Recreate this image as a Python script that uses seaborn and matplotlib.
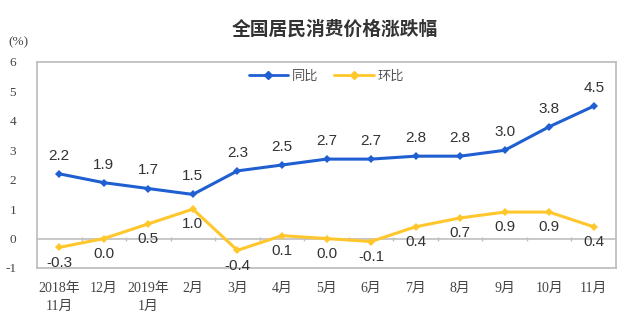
import matplotlib
matplotlib.use("Agg")
import matplotlib.pyplot as plt
import seaborn as sns
import pandas as pd
import numpy as np
from matplotlib.lines import Line2D

months = ["2018年\n11月", "12月", "2019年\n1月", "2月", "3月", "4月", "5月",
          "6月", "7月", "8月", "9月", "10月", "11月"]
yoy = [2.2, 1.9, 1.7, 1.5, 2.3, 2.5, 2.7, 2.7, 2.8, 2.8, 3.0, 3.8, 4.5]
mom = [-0.3, 0.0, 0.5, 1.0, -0.4, 0.1, 0.0, -0.1, 0.4, 0.7, 0.9, 0.9, 0.4]

sns.set_style("white")
plt.rcParams["font.family"] = ["Noto Sans CJK SC", "DejaVu Sans"]

blue = "#1F5FD2"
yellow = "#FFC72C"

df = pd.DataFrame({
    "pos": list(range(len(months))) * 2,
    "value": yoy + mom,
    "series": ["同比"] * len(months) + ["环比"] * len(months),
})

fig = plt.figure(figsize=(6.4, 3.22), dpi=100)
ax = fig.add_axes([37 / 640, 1 - 268 / 322, (616 - 37) / 640, (268 - 62) / 322])

sns.lineplot(data=df, x="pos", y="value", hue="series",
             palette={"同比": blue, "环比": yellow},
             marker="D", markersize=4.5, markeredgewidth=0, linewidth=2.2,
             ax=ax, legend=False)

serif = ["Liberation Serif", "Noto Sans CJK SC"]
ax.set_xlim(-0.5, len(months) - 0.5)
ax.set_ylim(-1, 6)
ax.set_yticks(range(-1, 7))
ax.set_xticks(range(len(months)))
ax.set_xticklabels(months, fontsize=10, color="#444444", family=serif, linespacing=1.5)
ax.set_yticklabels([str(v) for v in range(-1, 7)], fontsize=9.5, color="#444444",
                   family=serif)
ax.tick_params(axis="x", length=0, pad=10)
ax.tick_params(axis="y", length=0, pad=15)
ax.set_xlabel("")
ax.set_ylabel("")

for s in ax.spines.values():
    s.set_color("#BFBFBF")
    s.set_linewidth(1.3)

# category axis along zero with small boundary ticks
ax.axhline(0, color="#BFBFBF", linewidth=1.2, zorder=1)
bounds = np.arange(0.5, len(months) - 1, 1.0)
ax.vlines(bounds, -0.07, 0.07, color="#BFBFBF", linewidth=1.0, zorder=1)

label_font = dict(fontsize=11, color="#333333", family=["Liberation Sans", "DejaVu Sans"])
for i, v in enumerate(yoy):
    ax.annotate(f"{v:.1f}", (i, v), xytext=(0, 8), textcoords="offset points",
                ha="center", va="bottom", **label_font)
for i, v in enumerate(mom):
    ax.annotate(f"{v:.1f}", (i, v), xytext=(0, -6), textcoords="offset points",
                ha="center", va="top", **label_font)

# legend
handles = [Line2D([], [], color=blue, marker="D", markersize=4, linewidth=2),
           Line2D([], [], color=yellow, marker="D", markersize=4, linewidth=2)]
ax.legend(handles, ["同比", "环比"], loc="upper center", ncol=2, frameon=False,
          bbox_to_anchor=(0.5, 1.02), fontsize=9.5, handlelength=3, columnspacing=1.2,
          handletextpad=0.3, labelcolor="#555555")

fig.text(335 / 640, 1 - 29 / 322, "全国居民消费价格涨跌幅", ha="center", va="center",
         fontsize=13.5, fontweight="bold", color="#333333")
fig.text(18 / 640, 1 - 42 / 322, "(%)", ha="center", va="center", fontsize=9.5,
         color="#444444", family=["Liberation Serif", "DejaVu Sans"])

fig.savefig("out.png", dpi=100)
